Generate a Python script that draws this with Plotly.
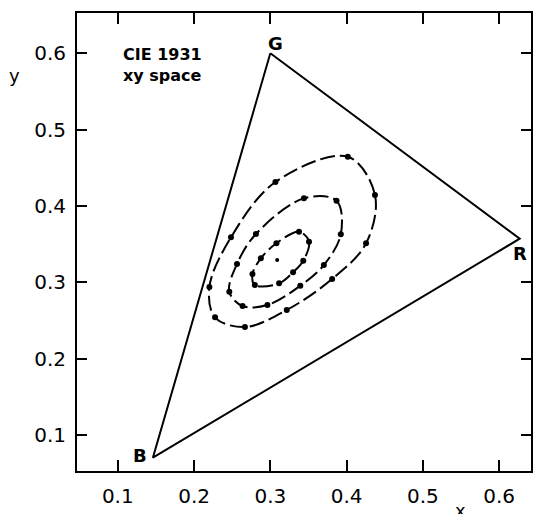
import plotly.graph_objects as go

# Display primaries (triangle vertices) in CIE 1931 xy
prim_names = ["G", "R", "B"]
prim_x = [0.300, 0.627, 0.146]
prim_y = [0.600, 0.357, 0.070]

# White point
white_x = [0.309]
white_y = [0.329]

# Ellipse sample points, clockwise from top
outer_x = [0.4016, 0.4372, 0.4255, 0.3810, 0.3215, 0.2667, 0.2275, 0.2201, 0.2484, 0.3067]
outer_y = [0.4645, 0.4143, 0.3510, 0.3042, 0.2636, 0.2413, 0.2540, 0.2937, 0.3588, 0.4313]

middle_x = [0.3441, 0.3868, 0.3924, 0.3702, 0.3393, 0.2962, 0.2636, 0.2462, 0.2563, 0.2811]
middle_y = [0.4100, 0.4068, 0.3628, 0.3225, 0.2954, 0.2701, 0.2688, 0.2876, 0.3239, 0.3632]

inner_x = [0.3376, 0.3507, 0.3432, 0.3298, 0.3115, 0.2797, 0.2766, 0.2876, 0.3080]
inner_y = [0.3662, 0.3531, 0.3282, 0.3130, 0.2985, 0.2963, 0.3107, 0.3313, 0.3510]

tick_vals = [0.1, 0.2, 0.3, 0.4, 0.5, 0.6]
tick_text = ["0.1", "0.2", "0.3", "0.4", "0.5", "0.6"]

FONT = "DejaVu Sans"

fig = go.Figure()

# Triangle
fig.add_trace(go.Scatter(
    x=prim_x + [prim_x[0]], y=prim_y + [prim_y[0]],
    mode="lines", line=dict(color="black", width=2), hoverinfo="skip"))

# Ellipses (dashed smooth curves) + dots
for ex, ey in [(outer_x, outer_y), (middle_x, middle_y), (inner_x, inner_y)]:
    fig.add_trace(go.Scatter(
        x=ex + [ex[0]], y=ey + [ey[0]], mode="lines",
        line=dict(color="black", width=2, dash="15px,5px", shape="spline", smoothing=1.0),
        hoverinfo="skip"))
    fig.add_trace(go.Scatter(
        x=ex, y=ey, mode="markers",
        marker=dict(color="black", size=6), hoverinfo="skip"))

fig.add_trace(go.Scatter(x=white_x, y=white_y, mode="markers",
                         marker=dict(color="black", size=4), hoverinfo="skip"))

# Vertex labels
lab_pos = {"G": (0.307, 0.613), "R": (0.627, 0.338), "B": (0.1296, 0.0735)}
for name in prim_names:
    lx, ly = lab_pos[name]
    fig.add_annotation(x=lx, y=ly, text=name, showarrow=False,
                       font=dict(family=FONT, size=18, color="black", weight="bold"),
                       xanchor="center", yanchor="middle")

fig.add_annotation(x=0.1039, y=0.585, text="CIE 1931<br>xy space", showarrow=False,
                   font=dict(family=FONT, size=16, color="black", weight="bold"),
                   xanchor="left", yanchor="middle", align="left")

# Axis titles as annotations
fig.add_annotation(xref="paper", yref="paper", x=-0.138, y=0.8646, text="y",
                   showarrow=False, font=dict(family=FONT, size=18, color="black"),
                   xanchor="center", yanchor="middle")
fig.add_annotation(xref="paper", yref="paper", x=0.844, y=-0.087, text="x",
                   showarrow=False, font=dict(family=FONT, size=18, color="black"),
                   xanchor="center", yanchor="middle")

axis_common = dict(
    tickvals=tick_vals, ticktext=tick_text,
    showline=True, linecolor="black", linewidth=2, mirror="ticks",
    ticks="inside", tickwidth=2, tickcolor="black",
    showgrid=False, zeroline=False,
    tickfont=dict(family=FONT, size=20, color="black"),
)

fig.update_xaxes(range=[0.0465, 0.6418], ticklen=11, ticklabelstandoff=6, **axis_common)
fig.update_yaxes(range=[0.0526, 0.6528], ticklen=10, ticklabelstandoff=5, **axis_common)

fig.update_layout(
    width=536, height=514,
    margin=dict(l=77, r=3, t=13, b=43),
    paper_bgcolor="white", plot_bgcolor="white",
    showlegend=False,
)

fig.write_html("out.html")
